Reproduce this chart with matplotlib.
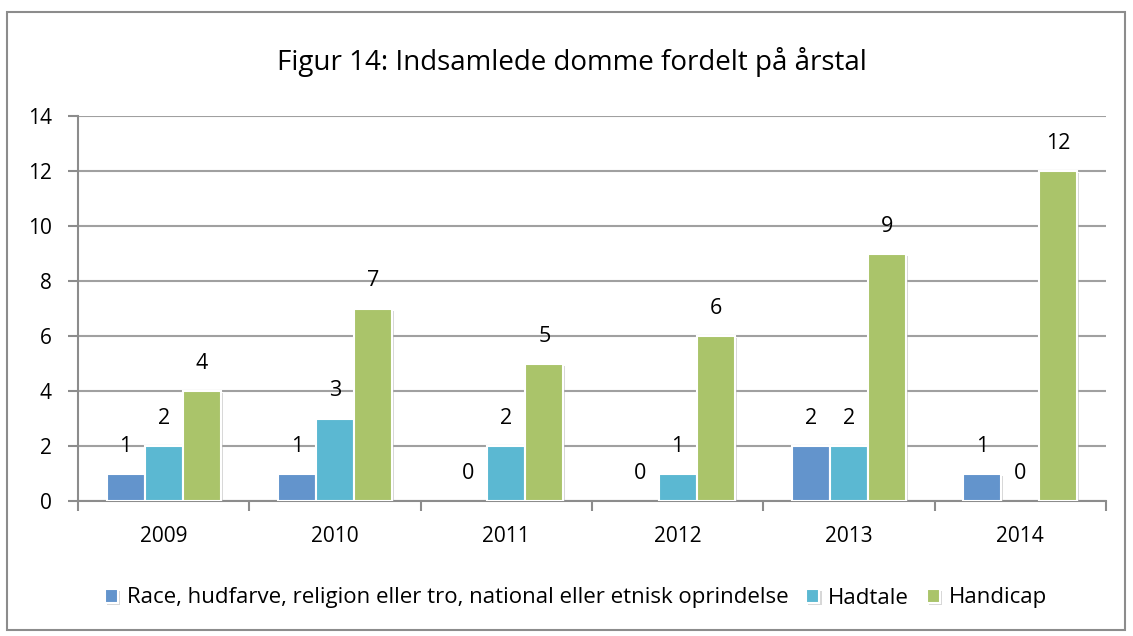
import matplotlib.pyplot as plt
import matplotlib.patheffects as pe
from matplotlib.patches import Rectangle
import numpy as np

years = ["2009", "2010", "2011", "2012", "2013", "2014"]
race = [1, 1, 0, 0, 2, 1]
hadtale = [2, 3, 2, 1, 2, 0]
handicap = [4, 7, 5, 6, 9, 12]
series_names = ["Race, hudfarve, religion eller tro, national eller etnisk oprindelse",
                "Hadtale", "Handicap"]
colors = ["#6394CC", "#5BB8D2", "#AAC46A"]

plt.rcParams["font.family"] = ["Open Sans", "DejaVu Sans"]

W, H = 1133, 636
fig = plt.figure(figsize=(W / 100, H / 100), dpi=100)
ax = fig.add_axes([78 / W, 1 - 501 / H, (1106 - 78) / W, (501 - 116) / H])

# outer chart border
fig.patches.append(Rectangle((7 / W, 1 - 630 / H), (1125 - 7) / W, (630 - 12) / H,
                             transform=fig.transFigure, fill=False,
                             edgecolor="#8C8C8C", linewidth=1.5))

x = np.arange(len(years))
bw = 0.222
shadow = [pe.SimplePatchShadow(offset=(1.5, -1.5), shadow_rgbFace="#B0B0B0", alpha=0.5), pe.Normal()]
for i, (vals, c, name) in enumerate(zip([race, hadtale, handicap], colors, series_names)):
    pos = x + (i - 1) * bw
    bars = ax.bar(pos, vals, width=bw, color=c, edgecolor="white", linewidth=1.5,
                  label=name, zorder=3)
    for b, v in zip(bars, vals):
        if v > 0:
            b.set_path_effects(shadow)
        else:
            b.set_visible(False)
    for p, v in zip(pos, vals):
        ax.text(p, v + 1.0, str(v), ha="center", va="center", fontsize=15.5, color="black", zorder=4)

ax.set_xlim(-0.5, len(years) - 0.5)
ax.set_ylim(0, 14)
ax.set_yticks(range(0, 15, 2))
ax.set_xticks(x)
ax.set_xticklabels(years)
ax.set_xticks(np.arange(-0.5, len(years)), minor=True)
ax.tick_params(axis="x", which="major", length=0, pad=18, labelsize=15)
ax.tick_params(axis="x", which="minor", length=7, width=1.5, color="#8C8C8C")
ax.tick_params(axis="y", length=7, width=1.5, color="#8C8C8C", labelsize=15, pad=12)
ax.grid(axis="y", color="#A0A0A0", linewidth=1.5, zorder=0)
ax.set_axisbelow(True)
for s in ["top", "right"]:
    ax.spines[s].set_visible(False)
for s in ["left", "bottom"]:
    ax.spines[s].set_color("#8C8C8C")
    ax.spines[s].set_linewidth(1.5)

fig.text(572 / W, 1 - 62 / H, "Figur 14: Indsamlede domme fordelt på årstal",
         ha="center", va="center", fontsize=20)

fig.legend(loc="center", bbox_to_anchor=(576 / W, 1 - 598 / H), ncol=3, frameon=False,
           fontsize=16, handlelength=0.6, handleheight=0.6, handletextpad=0.4,
           columnspacing=0.8)

fig.savefig("out.png", dpi=100)
